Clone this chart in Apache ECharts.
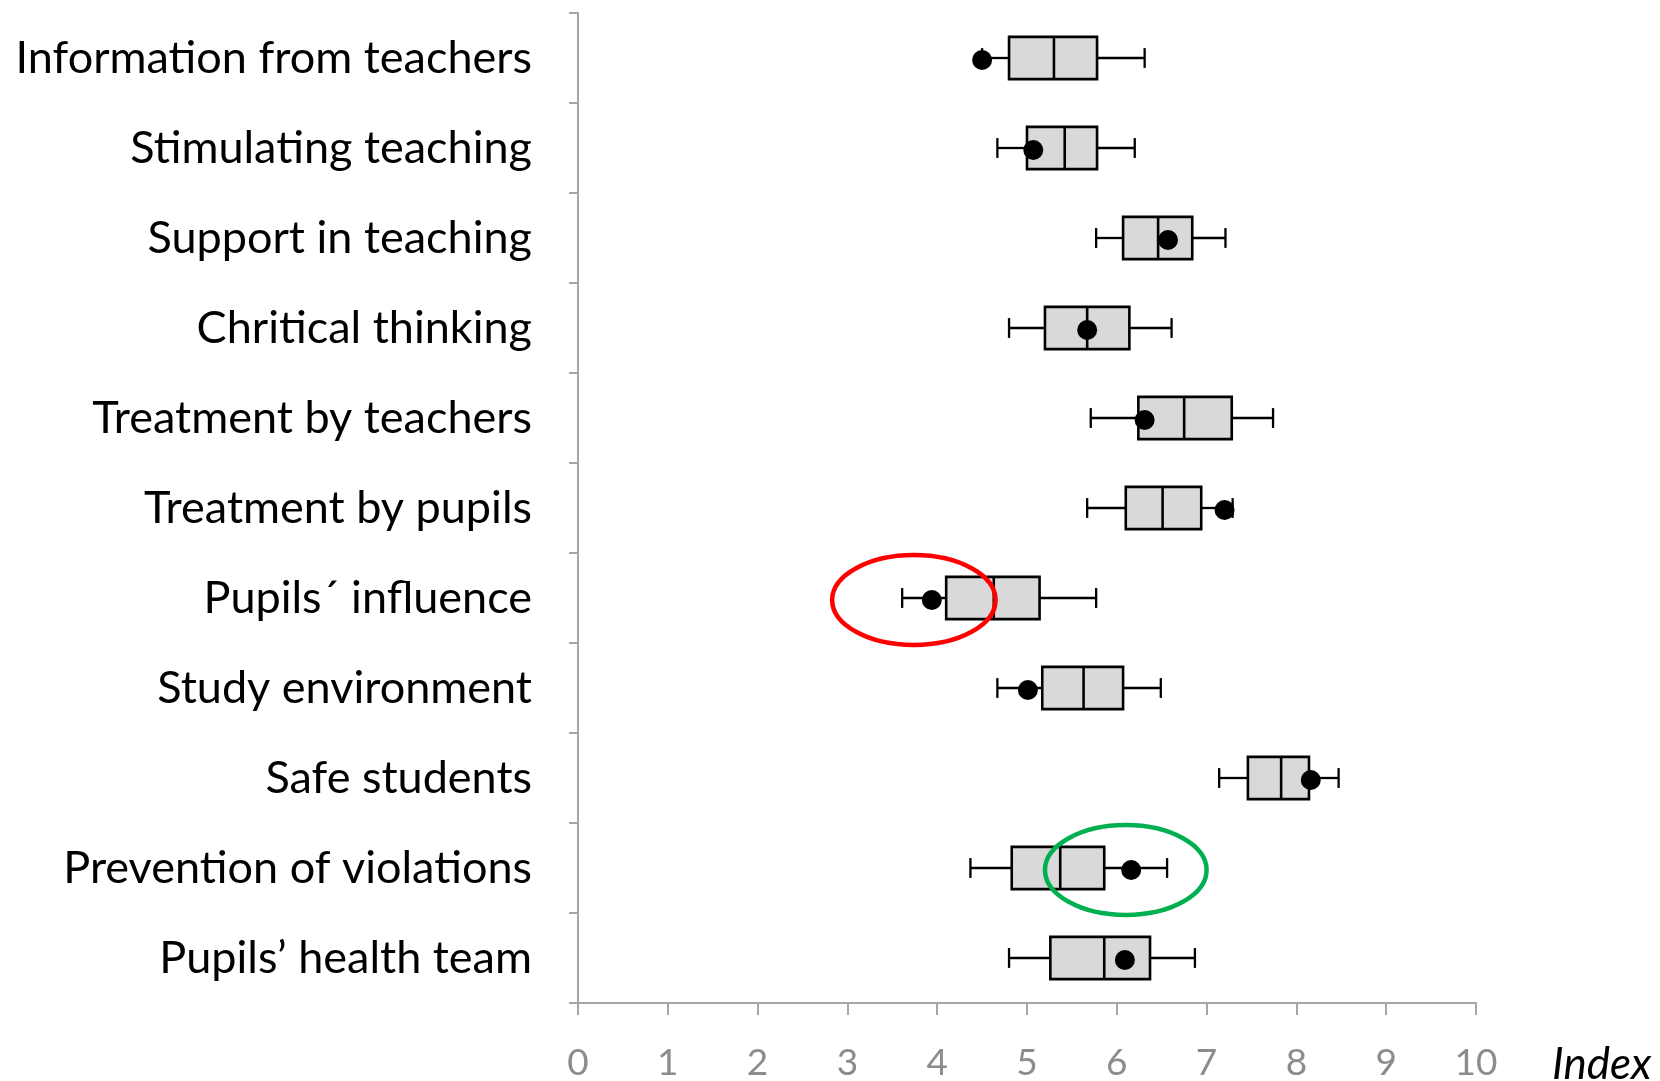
<!DOCTYPE html>
<html>
<head>
<meta charset="utf-8">
<script src="https://cdn.jsdelivr.net/npm/echarts@6/dist/echarts.min.js"></script>
<style>
  html, body { margin: 0; padding: 0; background: #fff; }
  #chart { width: 1660px; height: 1081px; }
</style>
</head>
<body>
<div id="chart"></div>
<script>
// --- dados ---
const categories = [
    'Information from teachers',
    'Stimulating teaching',
    'Support in teaching',
    'Chritical thinking',
    'Treatment by teachers',
    'Treatment by pupils',
    'Pupils\u00b4 influence',
    'Study environment',
    'Safe students',
    'Prevention of violations',
    'Pupils\u2019 health team'
];
const whiskerLow  = [4.50, 4.67, 5.77, 4.80, 5.71, 5.67, 3.61, 4.67, 7.14, 4.37, 4.80];
const q1          = [4.80, 5.00, 6.07, 5.20, 6.24, 6.10, 4.10, 5.17, 7.46, 4.83, 5.26];
const median      = [5.30, 5.42, 6.46, 5.67, 6.75, 6.51, 4.63, 5.63, 7.83, 5.37, 5.86];
const q3          = [5.78, 5.78, 6.84, 6.14, 7.28, 6.94, 5.14, 6.07, 8.14, 5.86, 6.37];
const whiskerHigh = [6.31, 6.20, 7.21, 6.61, 7.74, 7.29, 5.77, 6.49, 8.47, 6.56, 6.87];
const schoolValue = [4.50, 5.07, 6.57, 5.67, 6.31, 7.20, 3.94, 5.01, 8.16, 6.16, 6.09];

// destaques (elipses)
const highlightCategories = ['Pupils\u00b4 influence', 'Prevention of violations'];
const highlightCenters = [3.74, 6.10];
const highlightHalfWidths = [0.91, 0.90];

const axisGrey = '#a6a6a6';
const highlightColors = ['#ff0000', '#00b050'];

const chart = echarts.init(document.getElementById('chart'));

const boxData = categories.map((c, i) => [i, whiskerLow[i], q1[i], median[i], q3[i], whiskerHigh[i]]);
const dotData = categories.map((c, i) => [schoolValue[i], i]);
const ellipseData = highlightCategories.map((c, i) => [highlightCenters[i], categories.indexOf(c), highlightHalfWidths[i], i]);

const renderBox = (params, api) => {
    const cat = api.value(0);
    const band = api.size([0, 1])[1];
    const y = api.coord([0, cat])[1];
    const px = v => api.coord([v, cat])[0];
    const lo = px(api.value(1)), b1 = px(api.value(2)), md = px(api.value(3)), b3 = px(api.value(4)), hi = px(api.value(5));
    const halfBox = band * 0.235;
    const halfCap = band * 0.11;
    const lineStyle = { stroke: '#000', lineWidth: 2.3 };
    return {
        type: 'group',
        children: [
            { type: 'line', shape: { x1: lo, y1: y, x2: b1, y2: y }, style: lineStyle },
            { type: 'line', shape: { x1: b3, y1: y, x2: hi, y2: y }, style: lineStyle },
            { type: 'line', shape: { x1: lo, y1: y - halfCap, x2: lo, y2: y + halfCap }, style: lineStyle },
            { type: 'line', shape: { x1: hi, y1: y - halfCap, x2: hi, y2: y + halfCap }, style: lineStyle },
            { type: 'rect', shape: { x: b1, y: y - halfBox, width: b3 - b1, height: halfBox * 2 },
              style: { fill: '#d9d9d9', stroke: '#000', lineWidth: 2.6 } },
            { type: 'line', shape: { x1: md, y1: y - halfBox, x2: md, y2: y + halfBox }, style: { stroke: '#000', lineWidth: 2.6 } }
        ]
    };
};

const renderEllipse = (params, api) => {
    const c = api.coord([api.value(0), api.value(1)]);
    const rx = api.size([api.value(2), 0])[0];
    const ry = api.size([0, 1])[1] * 0.5;
    return {
        type: 'ellipse',
        shape: { cx: c[0], cy: c[1] + 2, rx: rx, ry: ry },
        style: { fill: 'none', stroke: highlightColors[api.value(3)], lineWidth: 4.5 }
    };
};

const option = {
    backgroundColor: '#ffffff',
    animation: false,
    grid: { left: 578, right: 184, top: 13, bottom: 78, containLabel: false, outerBoundsMode: 'none' },
    xAxis: {
        type: 'value',
        min: 0,
        max: 10,
        interval: 1,
        name: 'Index',
        nameLocation: 'end',
        nameGap: 76,
        nameTextStyle: { fontFamily: 'Lato', fontStyle: 'italic', fontSize: 44, color: '#000',
                         verticalAlign: 'top', padding: [40, 0, 0, 0] },
        axisLine: { show: true, lineStyle: { color: axisGrey, width: 2 } },
        axisTick: { show: true, length: 12, lineStyle: { color: axisGrey, width: 2 } },
        splitLine: { show: false },
        axisLabel: { color: '#8c8c8c', fontFamily: 'Lato', fontSize: 37, margin: 42 }
    },
    yAxis: {
        type: 'category',
        inverse: true,
        data: categories,
        axisLine: { show: true, lineStyle: { color: axisGrey, width: 2 } },
        axisTick: { show: true, length: 9, lineStyle: { color: axisGrey, width: 2 } },
        splitLine: { show: false },
        axisLabel: { color: '#000', fontFamily: 'Lato', fontSize: 45, margin: 46, padding: [8, 0, 0, 0] }
    },
    series: [
        { name: 'Box', type: 'custom', renderItem: renderBox, encode: { x: [1, 2, 3, 4, 5], y: 0 }, data: boxData },
        { name: 'Skolan', type: 'scatter', symbol: 'circle', symbolSize: 20, symbolOffset: [0, 2],
          itemStyle: { color: '#000', opacity: 1 }, data: dotData },
        { name: 'Highlight', type: 'custom', renderItem: renderEllipse, encode: { x: 0, y: 1 }, data: ellipseData }
    ]
};
chart.setOption(option);
</script>
</body>
</html>
